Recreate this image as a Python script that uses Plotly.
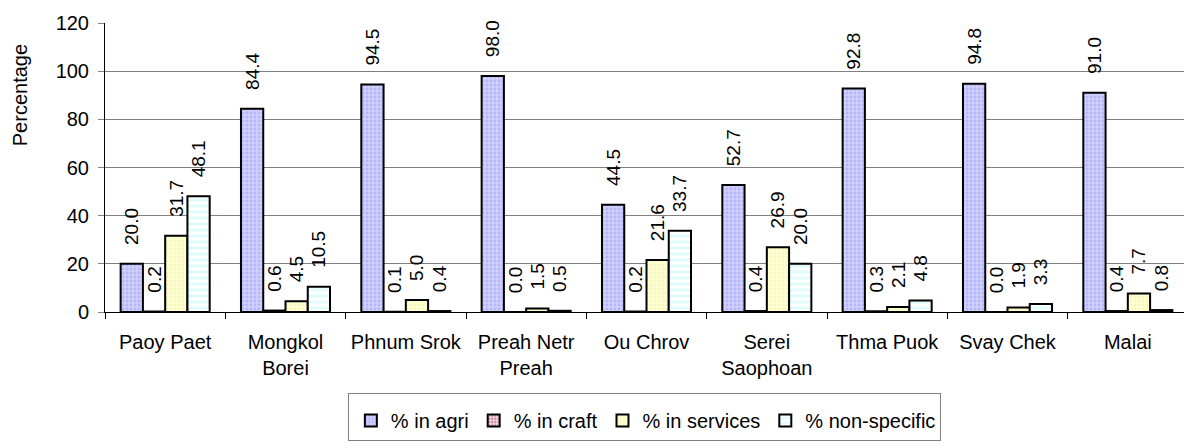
import plotly.graph_objects as go

categories = ["Paoy Paet", "Mongkol<br>Borei", "Phnum Srok", "Preah Netr<br>Preah", "Ou Chrov",
              "Serei<br>Saophoan", "Thma Puok", "Svay Chek", "Malai"]
agri = [20.0, 84.4, 94.5, 98.0, 44.5, 52.7, 92.8, 94.8, 91.0]
craft = [0.2, 0.6, 0.1, 0.0, 0.2, 0.4, 0.3, 0.0, 0.4]
services = [31.7, 4.5, 5.0, 1.5, 21.6, 26.9, 2.1, 1.9, 7.7]
nonspec = [48.1, 10.5, 0.4, 0.5, 33.7, 20.0, 4.8, 3.3, 0.8]
y_ticks = [0, 20, 40, 60, 80, 100, 120]
y_title = "Percentage"

FONT = "Liberation Sans, Arial, sans-serif"
PAD = "\u00a0\u00a0\u00a0"

series = [
    ("% in agri", agri, "#d0d0fc", dict(shape=".", fgcolor="#9a9af5", size=4, solidity=0.4)),
    ("% in craft", craft, "#f4d8e4", dict(shape=".", fgcolor="#a03060", size=4, solidity=0.4)),
    ("% in services", services, "#ffffd4", dict(shape=".", fgcolor="#eeeeaa", size=4, solidity=0.4)),
    ("% non-specific", nonspec, "#ffffff", dict(shape="-", fgcolor="#c4f8f8", size=6, solidity=0.5)),
]

fig = go.Figure()
for name, vals, col, pat in series:
    fig.add_trace(go.Bar(
        name=name, x=categories, y=vals,
        marker=dict(color=col, line=dict(color="black", width=2), pattern=pat),
        text=[PAD + f"{v:.1f}" for v in vals],
        textposition="outside", textangle=-90, constraintext="none",
        textfont=dict(family=FONT, size=19, color="black"),
        cliponaxis=False,
    ))

fig.update_layout(
    width=1184, height=440,
    margin=dict(l=97, r=4, t=12, b=136),
    paper_bgcolor="white", plot_bgcolor="white",
    barmode="group", bargap=0.26, bargroupgap=0,
    font=dict(family=FONT, size=20, color="black"),
    showlegend=True,
    legend=dict(orientation="h", x=0.4986, xanchor="center", y=-0.282, yanchor="top",
                bordercolor="#808080", borderwidth=1, itemwidth=30,
                title=dict(text="\u00a0", side="top left", font=dict(size=5)),
                font=dict(family=FONT, size=20, color="black")),
    xaxis=dict(showline=True, linecolor="black", linewidth=1, ticks="outside",
               tickson="boundaries", ticklen=6, tickcolor="black", ticklabelstandoff=12,
               tickfont=dict(family=FONT, size=20)),
    yaxis=dict(range=[0, 120], tickvals=y_ticks, showline=True, linecolor="black", linewidth=1,
               ticks="outside", ticklen=6, tickcolor="#808080", showgrid=True,
               gridcolor="#808080", gridwidth=1, zeroline=False, ticklabelstandoff=5,
               tickfont=dict(family=FONT, size=20)),
    annotations=[dict(text=y_title, textangle=-90, xref="paper", yref="paper",
                      x=-0.0785, y=0.75, xanchor="center", yanchor="middle", showarrow=False,
                      font=dict(family=FONT, size=20, color="black"))],
)

fig.write_html("out.html")
